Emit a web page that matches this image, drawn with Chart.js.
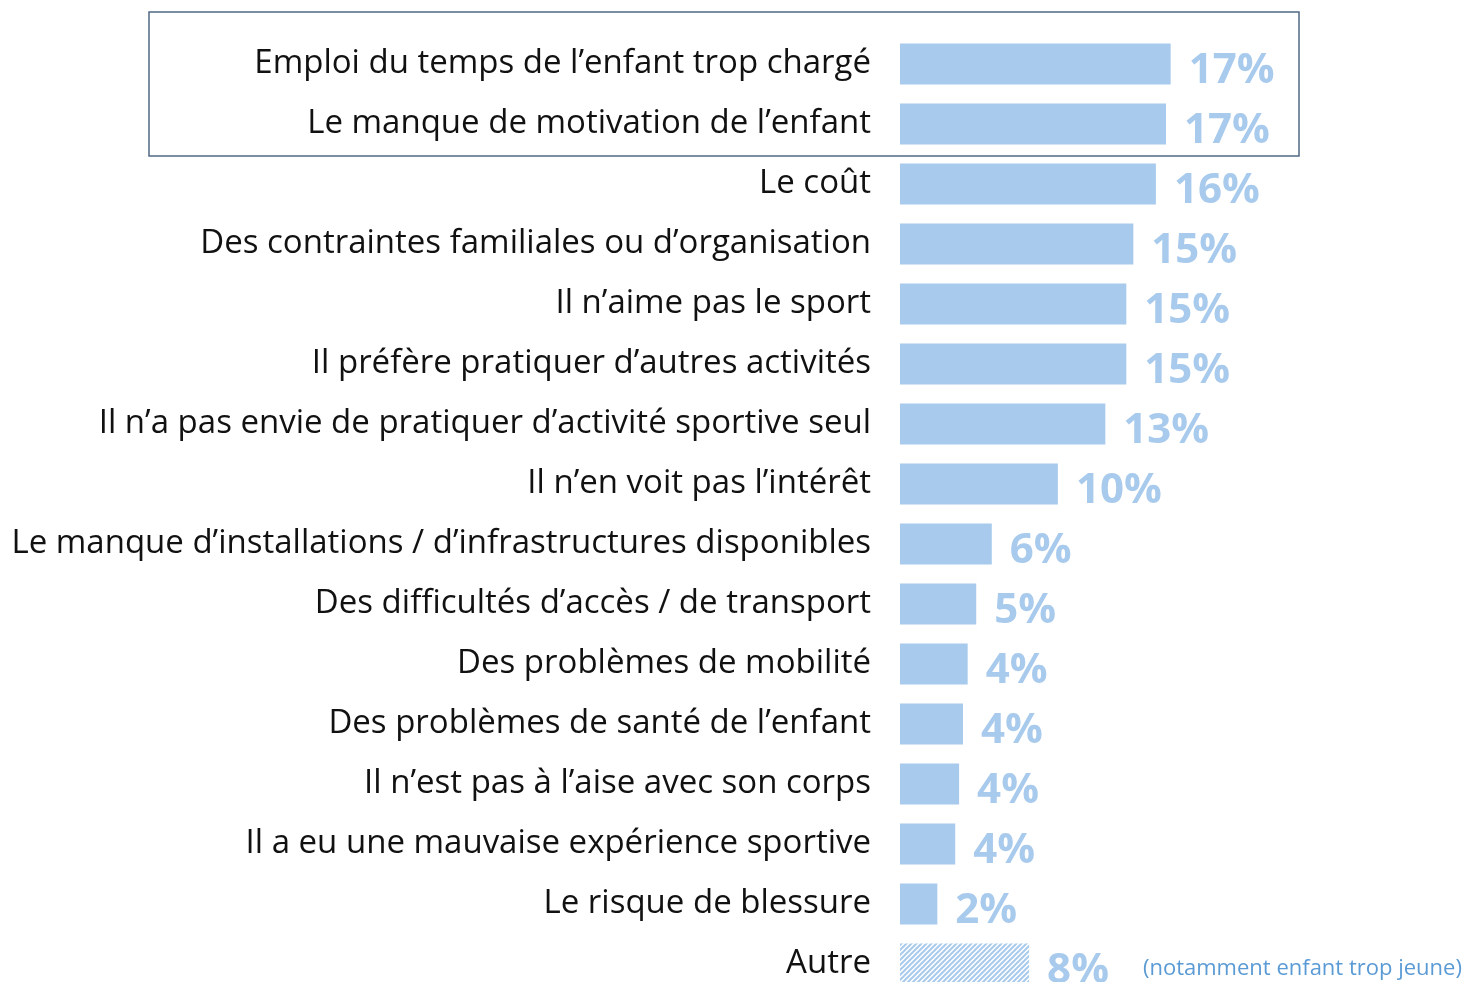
<!DOCTYPE html>
<html lang="fr">
<head>
<meta charset="UTF-8">
<title>Raisons de non-pratique sportive</title>
<script src="https://cdn.jsdelivr.net/npm/chart.js"></script>
<style>
  html, body { margin: 0; padding: 0; background: #fff; overflow: hidden; }
  canvas { display: block; }
</style>
</head>
<body>
<canvas id="freins" width="1468" height="994"></canvas>

<script>
// raisons citées, dans l'ordre d'affichage
const raisons = [
  'Emploi du temps de l\u2019enfant trop chargé',
  'Le manque de motivation de l\u2019enfant',
  'Le coût',
  'Des contraintes familiales ou d\u2019organisation',
  'Il n\u2019aime pas le sport',
  'Il préfère pratiquer d\u2019autres activités',
  'Il n\u2019a pas envie de pratiquer d\u2019activité sportive seul',
  'Il n\u2019en voit pas l\u2019intérêt',
  'Le manque d\u2019installations / d\u2019infrastructures disponibles',
  'Des difficultés d\u2019accès / de transport',
  'Des problèmes de mobilité',
  'Des problèmes de santé de l\u2019enfant',
  'Il n\u2019est pas à l\u2019aise avec son corps',
  'Il a eu une mauvaise expérience sportive',
  'Le risque de blessure',
  'Autre'
];

// % de parents citant la raison
const pourcentages = [17.4, 17.1, 16.45, 15.0, 14.55, 14.55, 13.2, 10.15, 5.9, 4.9, 4.35, 4.05, 3.8, 3.55, 2.4, 8.3];

const noteAutre = '(notamment enfant trop jeune)';

const bleu = '#A8CAEC';
const policeLabels = '"Open Sans", sans-serif';

// hachures pour la barre "Autre"
function hachures() {
  const s = 5;
  const c = document.createElement('canvas');
  c.width = s; c.height = s;
  const g = c.getContext('2d');
  g.fillStyle = '#fff';
  g.fillRect(0, 0, s, s);
  g.strokeStyle = bleu;
  g.lineWidth = 2;
  g.beginPath();
  g.moveTo(0, s); g.lineTo(s, 0);
  g.moveTo(-1, 1); g.lineTo(1, -1);
  g.moveTo(s - 1, s + 1); g.lineTo(s + 1, s - 1);
  g.stroke();
  return g.createPattern(c, 'repeat');
}

const couleurs = pourcentages.map((v, i) => i === pourcentages.length - 1 ? hachures() : bleu);

// valeurs en bout de barre + note pour "Autre"
const valeursPlugin = {
  id: 'valeurs',
  afterDatasetsDraw(chart) {
    const ctx = chart.ctx;
    const meta = chart.getDatasetMeta(0);
    ctx.save();
    ctx.textBaseline = 'alphabetic';
    ctx.textAlign = 'left';
    meta.data.forEach((bar, i) => {
      const txt = Math.round(pourcentages[i]) + '%';
      ctx.font = 'bold 42px ' + policeLabels;
      ctx.fillStyle = bleu;
      const x = bar.x + 18;
      ctx.fillText(txt, x, bar.y + 19);
      if (i === pourcentages.length - 1) {
        const w = ctx.measureText(txt).width;
        ctx.font = '22px ' + policeLabels;
        ctx.fillStyle = '#5B9BD5';
        ctx.fillText(noteAutre, x + w + 34, bar.y + 11);
      }
    });
    ctx.restore();
  }
};

// cadre autour des deux premières raisons
const cadrePlugin = {
  id: 'cadre',
  afterDraw(chart) {
    const y = chart.scales.y;
    const ctx = chart.ctx;
    const left = chart.chartArea.left - 751;
    const right = chart.chartArea.left + 399;
    const top = y.getPixelForValue(0) - 52;
    const bottom = y.getPixelForValue(1) + 32;
    ctx.save();
    ctx.strokeStyle = '#4F6885';
    ctx.lineWidth = 1.5;
    ctx.strokeRect(left, top, right - left, bottom - top);
    ctx.restore();
  }
};

new Chart(document.getElementById('freins'), {
  type: 'bar',
  data: {
    labels: raisons,
    datasets: [{
      data: pourcentages,
      backgroundColor: couleurs,
      borderWidth: 0,
      barPercentage: 0.685,
      categoryPercentage: 1
    }]
  },
  options: {
    indexAxis: 'y',
    responsive: false,
    animation: false,
    layout: { padding: { top: 34, right: 8, bottom: 0, left: 0 } },
    plugins: {
      legend: { display: false },
      tooltip: { enabled: false }
    },
    scales: {
      x: { display: false, min: 0, max: 36 },
      y: {
        grid: { display: false, drawTicks: false },
        border: { display: false },
        ticks: {
          padding: 29,
          color: '#111',
          font: { family: policeLabels, size: 33 }
        },
        afterFit(scale) {
          // largeur fixe pour la colonne des libellés, pas de marge auto
          scale.width = 900;
          scale.paddingTop = 0;
          scale.paddingBottom = 0;
        }
      }
    }
  },
  plugins: [valeursPlugin, cadrePlugin]
});
</script>
</body>
</html>
